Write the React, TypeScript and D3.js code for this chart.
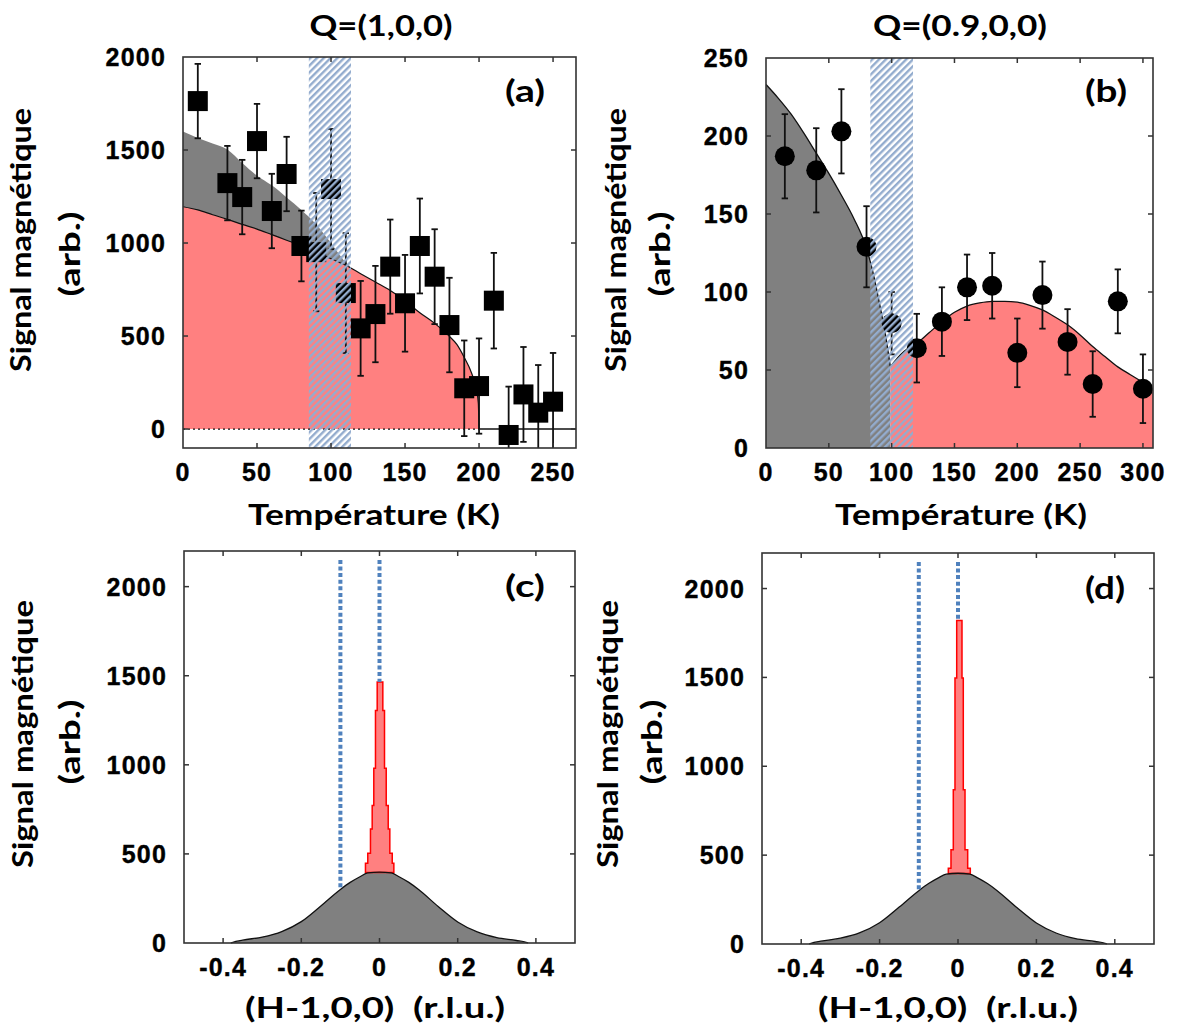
import React from 'react';
import * as d3 from 'd3';

// ---------- Panel (a) : Q=(1,0,0) ----------
const tempA = [10, 30, 40, 50, 60, 70, 80, 90, 100, 110, 120, 130, 140, 150, 160, 170, 180, 190, 200, 210, 220, 230, 240, 250];
const signalA = [1763, 1322, 1247, 1548, 1172, 1371, 984, 951, 1290, 731, 541, 618, 873, 676, 984, 819, 559, 219, 231, 690, -32, 186, 88, 147];
const errA = [200, 200, 200, 200, 200, 200, 190, 318, 323, 322, 255, 259, 253, 260, 255, 255, 254, 257, 256, 257, 260, 255, 256, 262];
const fitTempRedA = [0, 10, 20, 30, 40, 50, 60, 70, 80, 90, 100, 110, 120, 130, 140, 150, 160, 170, 180, 185, 190, 195, 198, 199.5, 200];
const fitRedA = [1195, 1178, 1152, 1127, 1100, 1075, 1045, 1015, 985, 953, 915, 880, 835, 790, 745, 690, 625, 568, 498, 455, 385, 300, 220, 140, 0];
const fitTempGrayA = [0, 10, 20, 30, 40, 50, 60, 70, 80, 90, 100, 110, 113];
const fitGrayA = [1600, 1565, 1535, 1503, 1430, 1362, 1310, 1245, 1178, 1100, 1000, 895, 873];
const bandA = [85, 113.5];
const xTicksA = [0, 50, 100, 150, 200, 250];
const yTicksA = [0, 500, 1000, 1500, 2000];

// ---------- Panel (b) : Q=(0.9,0,0) ----------
const tempB = [15, 40, 60, 80, 100, 120, 140, 160, 180, 200, 220, 240, 260, 280, 300];
const signalB = [187, 178, 203, 129, 80, 64, 81, 103, 104, 61, 98, 68, 41, 94, 38];
const errB = [27, 27, 27, 26, 20, 22, 22, 21, 21, 22, 21.5, 21, 21, 20.5, 22];
const fitTempGrayB = [0, 10, 20, 30, 40, 50, 60, 70, 80, 85, 90, 95, 99];
const fitGrayB = [233, 224, 214, 202, 189, 176, 162, 147, 128, 113, 94, 73, 52];
const fitTempRedB = [99, 105, 110, 120, 130, 140, 150, 160, 170, 180, 190, 200, 210, 220, 230, 240, 250, 260, 270, 280, 290, 300, 308];
const fitRedB = [52, 58, 62, 67, 74, 81, 87, 91, 93, 94, 94, 93.5, 91.5, 88.5, 84, 79, 72.5, 65, 58.5, 52, 47, 42, 37];
const bandB = [83, 117];
const xTicksB = [0, 50, 100, 150, 200, 250, 300];
const yTicksB = [0, 50, 100, 150, 200, 250];

// ---------- Panels (c), (d) : scans along H ----------
const hGray = [-0.38, -0.375, -0.35, -0.3, -0.25, -0.2, -0.15, -0.1, -0.075, -0.05, -0.03, 0, 0.03, 0.05, 0.075, 0.1, 0.15, 0.2, 0.25, 0.3, 0.35, 0.375, 0.38];
const grayC = [0, 4, 16, 33, 64, 120, 208, 300, 340, 372, 393, 398, 393, 372, 340, 300, 205, 118, 62, 30, 14, 4, 0];
const grayD = [0, 4, 16, 33, 64, 120, 208, 300, 340, 372, 393, 398, 393, 372, 340, 300, 205, 118, 62, 30, 14, 4, 0];
// red peak steps, outer -> inner
const peakLeftC = [-0.0359, -0.03, -0.0231, -0.0187, -0.0146, -0.0103, -0.0059];
const peakRightC = [0.0367, 0.0326, 0.0264, 0.0223, 0.0172, 0.0128, 0.0085];
const peakValC = [448, 504, 640, 771, 981, 1305, 1465];
const peakLeftD = [-0.0247, -0.0179, -0.012, -0.0077, -0.0033];
const peakRightD = [0.0314, 0.0247, 0.0179, 0.0135, 0.0102];
const peakValD = [426, 530, 868, 1497, 1820];
const peakBase = 396;
const guideH = [-0.1, 0];
const guideEndC = [300, 1465];
const guideEndD = [300, 1820];
const guideTop = 2150;
const xTicksH = [-0.4, -0.2, 0, 0.2, 0.4];
const yTicksH = [0, 500, 1000, 1500, 2000];

const RED = '#ff8080';
const GRAY = '#808080';
const BLUE = '#4f81bd';
const FRAME = '#333';
const fontCal = "Lato, 'Open Sans', sans-serif";
const fontAr = "'Liberation Sans', Arial, sans-serif";

type Sc = d3.ScaleLinear<number, number>;

function Frame({ xs, ys, xTicks, yTicks, fmt, id }: { xs: Sc; ys: Sc; xTicks: number[]; yTicks: number[]; fmt: (v: number) => string; id: string }) {
  const [x0, x1] = xs.range();
  const [y0, y1] = ys.range();
  const tl = 5;
  return (
    <g>
      <rect x={x0} y={y1} width={x1 - x0} height={y0 - y1} fill="none" stroke={FRAME} strokeWidth={1.6} />
      {xTicks.map((t) => {
        const x = xs(t);
        if (Math.abs(x - x0) < 2 || Math.abs(x - x1) < 2) return null;
        return (
          <g key={id + 'xt' + t}>
            <line x1={x} x2={x} y1={y0} y2={y0 - tl} stroke={FRAME} strokeWidth={1.5} />
            <line x1={x} x2={x} y1={y1} y2={y1 + tl} stroke={FRAME} strokeWidth={1.5} />
          </g>
        );
      })}
      {yTicks.map((t) => {
        const y = ys(t);
        if (Math.abs(y - y0) < 2 || Math.abs(y - y1) < 2) return null;
        return (
          <g key={id + 'yt' + t}>
            <line x1={x0} x2={x0 + tl} y1={y} y2={y} stroke={FRAME} strokeWidth={1.5} />
            <line x1={x1} x2={x1 - tl} y1={y} y2={y} stroke={FRAME} strokeWidth={1.5} />
          </g>
        );
      })}
      {xTicks.map((t) => (
        <text key={id + 'xl' + t} x={xs(t)} y={y0 + 33} textAnchor="middle" fontFamily={fontAr} fontWeight="bold" fontSize={25} letterSpacing={1.2} fill="#000" stroke="#000" strokeWidth={0.4}>
          {fmt(t)}
        </text>
      ))}
      {yTicks.map((t) => (
        <text key={id + 'yl' + t} x={x0 - 17} y={ys(t) + 9} textAnchor="end" fontFamily={fontAr} fontWeight="bold" fontSize={25} letterSpacing={1.2} fill="#000" stroke="#000" strokeWidth={0.4}>
          {String(t)}
        </text>
      ))}
    </g>
  );
}

function CalText({ x, y, text, len, size = 28, rotate = false }: { x: number; y: number; text: string; len: number; size?: number; rotate?: boolean }) {
  return (
    <text
      transform={`translate(${x},${y})${rotate ? ' rotate(-90)' : ''}`}
      textAnchor="middle"
      fontFamily={fontCal}
      fontWeight="bold"
      fontSize={size}
      textLength={len}
      lengthAdjust="spacingAndGlyphs"
      fill="#000"
      style={{ whiteSpace: 'pre' }}
    >
      {text}
    </text>
  );
}

function ErrBars({ xs, ys, t, v, e, marker }: { xs: Sc; ys: Sc; t: number[]; v: number[]; e: number[]; marker: 'square' | 'circle' }) {
  return (
    <g>
      {t.map((ti, i) => {
        const x = xs(ti);
        const yt = ys(v[i] + e[i]);
        const yb = ys(v[i] - e[i]);
        return (
          <g key={'e' + i}>
            <line x1={x} x2={x} y1={yt} y2={yb} stroke="#111" strokeWidth={1.8} />
            <line x1={x - 3.2} x2={x + 3.2} y1={yt} y2={yt} stroke="#111" strokeWidth={1.8} />
            <line x1={x - 3.2} x2={x + 3.2} y1={yb} y2={yb} stroke="#111" strokeWidth={1.8} />
            {marker === 'square' ? (
              <rect x={x - 10} y={ys(v[i]) - 10} width={20} height={20} fill="#000" />
            ) : (
              <circle cx={x} cy={ys(v[i])} r={10} fill="#000" />
            )}
          </g>
        );
      })}
    </g>
  );
}

function stairs(xs: Sc, ys: Sc, L: number[], R: number[], V: number[], base: number) {
  const n = V.length;
  const pts: [number, number][] = [[L[0], base]];
  for (let i = 0; i < n; i++) {
    pts.push([L[i], V[i]]);
    if (i < n - 1) pts.push([L[i + 1], V[i]]);
  }
  pts.push([R[n - 1], V[n - 1]]);
  for (let i = n - 1; i >= 1; i--) {
    pts.push([R[i], V[i - 1]]);
    pts.push([R[i - 1], V[i - 1]]);
  }
  pts.push([R[0], base]);
  return 'M' + pts.map((p) => `${xs(p[0])},${ys(p[1])}`).join('L') + 'Z';
}

function PanelA() {
  const xs = d3.scaleLinear().domain([0, 265.5]).range([183, 576]);
  const ys = d3.scaleLinear().domain([-102, 2000]).range([448, 57]);
  const grayPath = d3
    .area<number>()
    .x((_, i) => xs(fitTempGrayA[i]))
    .y0(ys(0))
    .y1((d) => ys(d))
    .curve(d3.curveMonotoneX)(fitGrayA) as string;
  const redPath = d3
    .area<number>()
    .x((_, i) => xs(fitTempRedA[i]))
    .y0(ys(0))
    .y1((d) => ys(d))
    .curve(d3.curveMonotoneX)(fitRedA) as string;
  const redLine = d3
    .line<number>()
    .x((_, i) => xs(fitTempRedA[i]))
    .y((d) => ys(d))
    .curve(d3.curveMonotoneX)(fitRedA) as string;
  const [x0, x1] = xs.range();
  const [y0, y1] = ys.range();
  return (
    <g>
      <clipPath id="clipA">
        <rect x={x0} y={y1} width={x1 - x0} height={y0 - y1} />
      </clipPath>
      <g clipPath="url(#clipA)">
        <path d={grayPath} fill={GRAY} />
        <path d={redPath} fill={RED} />
        <path d={redLine} fill="none" stroke="#111" strokeWidth={1.2} />
        <line x1={xs(0)} x2={xs(200)} y1={ys(0)} y2={ys(0)} stroke="#111" strokeWidth={1.2} strokeDasharray="2 3" />
        <line x1={xs(200)} x2={x1} y1={ys(0)} y2={ys(0)} stroke="#111" strokeWidth={1.4} />
        <ErrBars xs={xs} ys={ys} t={tempA} v={signalA} e={errA} marker="square" />
        <rect x={xs(bandA[0])} y={y1} width={xs(bandA[1]) - xs(bandA[0])} height={y0 - y1} fill="url(#hatch)" />
      </g>
      <Frame xs={xs} ys={ys} xTicks={xTicksA} yTicks={yTicksA} fmt={(v) => String(v)} id="a" />
      <CalText x={525} y={102} text="(a)" len={40} size={30} />
      <CalText x={381} y={36} text="Q=(1,0,0)" len={143} />
      <CalText x={374} y={525} text="Température (K)" len={252} />
      <CalText x={31} y={240} text="Signal magnétique" len={264} rotate />
      <CalText x={80} y={254} text="(arb.)" len={85} rotate />
    </g>
  );
}

function PanelB() {
  const xs = d3.scaleLinear().domain([0, 308]).range([766, 1153]);
  const ys = d3.scaleLinear().domain([0, 250]).range([448, 58]);
  const mk = (T: number[]) =>
    d3
      .area<number>()
      .x((_, i) => xs(T[i]))
      .y0(ys(0))
      .y1((d) => ys(d))
      .curve(d3.curveMonotoneX);
  const mkl = (T: number[]) =>
    d3
      .line<number>()
      .x((_, i) => xs(T[i]))
      .y((d) => ys(d))
      .curve(d3.curveMonotoneX);
  const [x0, x1] = xs.range();
  const [y0, y1] = ys.range();
  return (
    <g>
      <clipPath id="clipB">
        <rect x={x0} y={y1} width={x1 - x0} height={y0 - y1} />
      </clipPath>
      <g clipPath="url(#clipB)">
        <path d={mk(fitTempGrayB)(fitGrayB) as string} fill={GRAY} />
        <path d={mk(fitTempRedB)(fitRedB) as string} fill={RED} />
        <path d={mkl(fitTempGrayB)(fitGrayB) as string} fill="none" stroke="#111" strokeWidth={1.3} />
        <path d={mkl(fitTempRedB)(fitRedB) as string} fill="none" stroke="#111" strokeWidth={1.3} />
        <ErrBars xs={xs} ys={ys} t={tempB} v={signalB} e={errB} marker="circle" />
        <rect x={xs(bandB[0])} y={y1} width={xs(bandB[1]) - xs(bandB[0])} height={y0 - y1} fill="url(#hatch)" />
      </g>
      <Frame xs={xs} ys={ys} xTicks={xTicksB} yTicks={yTicksB} fmt={(v) => String(v)} id="b" />
      <CalText x={1106} y={102} text="(b)" len={42} size={30} />
      <CalText x={960} y={36} text="Q=(0.9,0,0)" len={174} />
      <CalText x={961} y={525} text="Température (K)" len={252} />
      <CalText x={626} y={240} text="Signal magnétique" len={264} rotate />
      <CalText x={670} y={254} text="(arb.)" len={85} rotate />
    </g>
  );
}

function PanelH({ xr, yr, gray, L, R, V, guideEnd, label, labelX, labelY, titleX, yLabX, yLabX2, id }: any) {
  const xs = d3.scaleLinear().domain([-0.5, 0.5]).range(xr);
  const ys = d3.scaleLinear().domain([0, 2200]).range(yr);
  const grayArea = d3
    .area<number>()
    .x((_, i) => xs(hGray[i]))
    .y0(ys(0))
    .y1((d) => ys(d))
    .curve(d3.curveMonotoneX)(gray) as string;
  const grayLine = d3
    .line<number>()
    .x((_, i) => xs(hGray[i]))
    .y((d) => ys(d))
    .curve(d3.curveMonotoneX)(gray) as string;
  const fmt = (v: number) => (v === 0 ? '0' : v.toFixed(1));
  return (
    <g>
      <path d={grayArea} fill={GRAY} />
      <path d={stairs(xs, ys, L, R, V, peakBase)} fill={RED} stroke="#ff0000" strokeWidth={1.5} strokeLinejoin="miter" />
      <path d={grayLine} fill="none" stroke="#111" strokeWidth={1.3} />
      {guideH.map((h, i) => (
        <line key={id + 'g' + i} x1={xs(h)} x2={xs(h)} y1={ys(guideTop)} y2={ys(guideEnd[i])} stroke={BLUE} strokeWidth={4} strokeDasharray="4 2.6" />
      ))}
      <Frame xs={xs} ys={ys} xTicks={xTicksH} yTicks={yTicksH} fmt={fmt} id={id} />
      <CalText x={labelX} y={labelY} text={label} len={40} size={30} />
      <CalText x={titleX} y={1018} text="(H-1,0,0)  (r.l.u.)" len={260} />
      <CalText x={yLabX} y={734} text="Signal magnétique" len={268} rotate />
      <CalText x={yLabX2} y={742} text="(arb.)" len={85} rotate />
    </g>
  );
}

export default function App() {
  return (
    <svg width={1178} height={1030} style={{ position: 'absolute', left: 0, top: 0, background: '#fff' }} xmlns="http://www.w3.org/2000/svg">
      <defs>
        <pattern id="hatch" patternUnits="userSpaceOnUse" width={4.8} height={4.8} patternTransform="rotate(45)">
          <rect x={0} y={0} width={2.4} height={4.8} fill="#93acce" />
        </pattern>
      </defs>
      <rect x={0} y={0} width={1178} height={1030} fill="#fff" />
      <PanelA />
      <PanelB />
      <PanelH xr={[184, 575]} yr={[943, 551]} gray={grayC} L={peakLeftC} R={peakRightC} V={peakValC} guideEnd={guideEndC} label="(c)" labelX={525} labelY={597} titleX={375} yLabX={33} yLabX2={80} id="c" />
      <PanelH xr={[762, 1154]} yr={[944, 553]} gray={grayD} L={peakLeftD} R={peakRightD} V={peakValD} guideEnd={guideEndD} label="(d)" labelX={1105} labelY={599} titleX={948} yLabX={618} yLabX2={662} id="d" />
    </svg>
  );
}
